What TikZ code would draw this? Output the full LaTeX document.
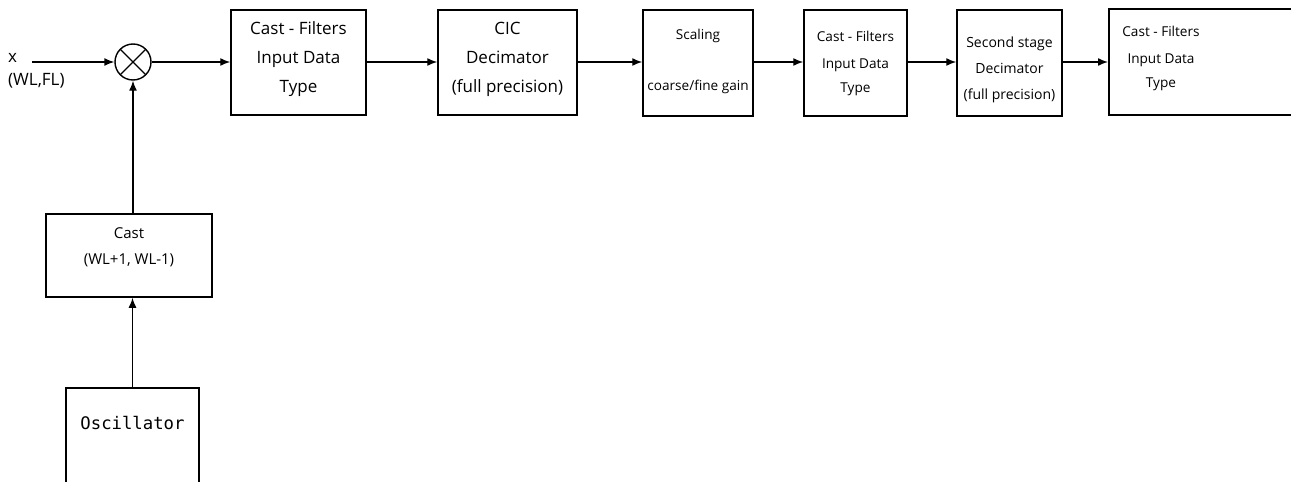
\documentclass[tikz,border=0pt]{standalone}
\usepackage{fontspec}
\setmainfont{Open Sans}
\setmonofont{DejaVu Sans Mono}
\usetikzlibrary{arrows.meta}

\begin{document}
\begin{tikzpicture}[x=1pt,y=-1pt,
    blk/.style={draw,line width=1.5pt,align=center,inner sep=0pt},
    big/.style={font=\fontsize{17}{29}\selectfont},
    small/.style={font=\fontsize{13.6}{27}\selectfont},
    sig/.style={line width=1.4pt,-{Latex[length=10pt,width=8pt]}}]
  \useasboundingbox (0,0) rectangle (1291,482);
  \clip (0,0) rectangle (1291,482);
  % input and mixer
  \node[anchor=west,align=left,inner sep=0pt,font=\fontsize{17}{23}\selectfont] (xin) at (8,71) {x\\(WL,FL)};
  \coordinate (xstart) at (32,62);
  \node[draw,circle,line width=1.4pt,minimum size=36pt,inner sep=0pt,
    path picture={\draw[line width=1.4pt]
      (path picture bounding box.north west) -- (path picture bounding box.south east)
      (path picture bounding box.north east) -- (path picture bounding box.south west);}]
    (mix) at (133,62) {};
  % filter chain
  \node[blk,big,minimum width=135pt,minimum height=105pt] (cast1) at (298.5,62.5) {Cast - Filters\\Input Data\\Type\\[-18pt]\mbox{}};
  \node[blk,big,minimum width=139pt,minimum height=105pt] (cic) at (507.5,62.5) {CIC\\Decimator\\(full precision)\\[-19pt]\mbox{}};
  \node[blk,small,minimum width=110pt,minimum height=106pt] (scale) at (698,63) {Scaling\\[24pt]coarse/fine gain\\[-20pt]\mbox{}};
  \node[blk,small,minimum width=103pt,minimum height=106pt] (cast2) at (855.5,63) {Cast - Filters\\Input Data\\[-3pt]Type\\[-24pt]\mbox{}};
  \node[blk,small,minimum width=105pt,minimum height=106pt,font=\fontsize{14}{26}\selectfont] (dec2) at (1009.5,63) {\mbox{}\\[-2pt]Second stage\\Decimator\\(full precision)};
  \node[blk,minimum width=250pt,minimum height=106pt,anchor=west] (cast3) at (1108,62) {};
  \node[small,align=center,inner sep=0pt] (cast3txt) at (1161,58) {Cast - Filters\\Input Data\\[-3pt]Type};
  % oscillator branch
  \node[blk,minimum width=166pt,minimum height=83pt,font=\fontsize{15}{26}\selectfont] (cast) at (129,255.5) {Cast\\(WL+1, WL-1)\\[-8pt]\mbox{}};
  \node[blk,font=\ttfamily\fontsize{17.3}{20}\selectfont,minimum width=133pt,anchor=north,
    text height=42pt,text depth=100pt] (osc) at (132.5,387) {Oscillator};
  % connectors
  \draw[sig] (xstart) -- (mix.west);
  \draw[sig] (mix.east) -- (cast1.west |- mix.east);
  \draw[sig] (cast1.east |- mix.east) -- (cic.west |- mix.east);
  \draw[sig] (cic.east |- mix.east) -- (scale.west |- mix.east);
  \draw[sig] (scale.east |- mix.east) -- (cast2.west |- mix.east);
  \draw[sig] (cast2.east |- mix.east) -- (dec2.west |- mix.east);
  \draw[sig] (dec2.east |- mix.east) -- (cast3.west);
  \draw[sig] (cast.north -| mix.south) -- (mix.south);
  \draw[sig] (osc.north) -- (osc.north |- cast.south);
\end{tikzpicture}
\end{document}
